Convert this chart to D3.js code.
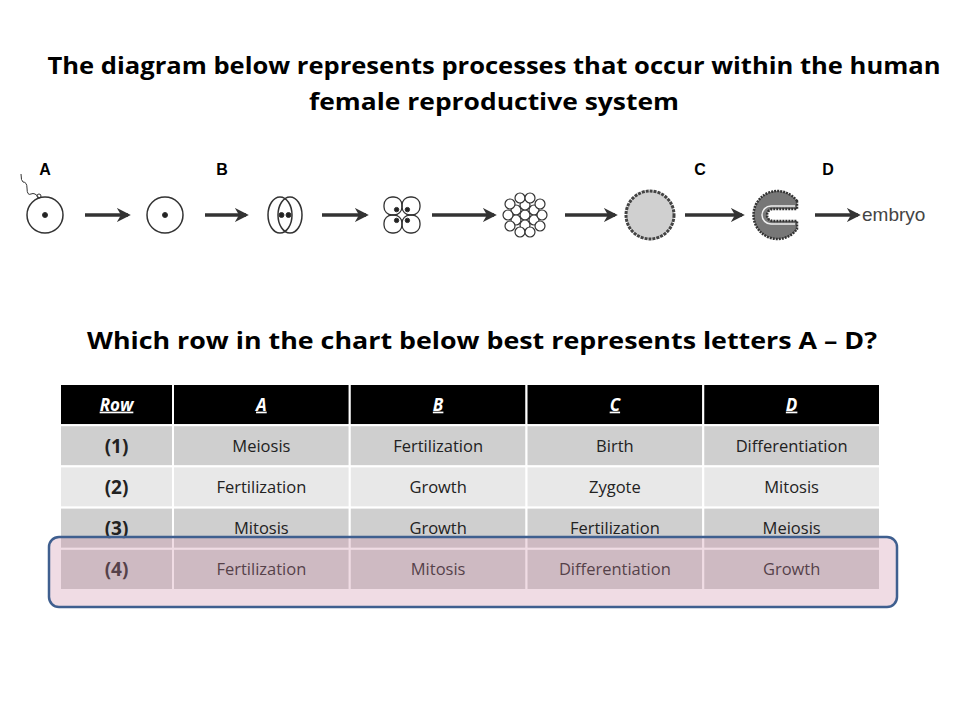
<!DOCTYPE html><html><head><meta charset="utf-8"><script src="https://cdn.jsdelivr.net/npm/d3@7"></script>
<style>body{margin:0;background:#fff}</style></head><body><svg id="c" width="960" height="720"></svg>
<script>
const titleLines=["The diagram below represents processes that occur within the human","female reproductive system"];
const question="Which row in the chart below best represents letters A – D?";
const stageLetters=["A","B","C","D"];
const headers=["Row","A","B","C","D"];
const rowLabels=["(1)","(2)","(3)","(4)"];
const colA=["Meiosis","Fertilization","Mitosis","Fertilization"];
const colB=["Fertilization","Growth","Growth","Mitosis"];
const colC=["Birth","Zygote","Fertilization","Differentiation"];
const colD=["Differentiation","Mitosis","Meiosis","Growth"];
const stages=["egg","zygote","two","four","morula","blastula","gastrula"];

const svg=d3.select("#c");
const F="'Open Sans','Liberation Sans',sans-serif";
const titleLen=[893,370];
svg.selectAll("text.t").data(titleLines).join("text").attr("x",494).attr("y",(d,i)=>74+i*36)
 .attr("text-anchor","middle").attr("font-family",F).attr("font-weight","bold").attr("font-size",23)
 .attr("textLength",(d,i)=>titleLen[i]).attr("lengthAdjust","spacingAndGlyphs").text(d=>d);
svg.append("text").attr("x",482).attr("y",349).attr("text-anchor","middle").attr("font-family",F)
 .attr("font-weight","bold").attr("font-size",23).attr("textLength",790).attr("lengthAdjust","spacingAndGlyphs").text(question);

const xs={egg:45,zygote:165,two:285,four:402,morula:525,blastula:650,gastrula:775};
const cy=215;
const g=svg.append("g").attr("stroke","#333").attr("fill","none");
svg.selectAll("text.l").data(stageLetters).join("text").attr("x",(d,i)=>[45,222,700,828][i]).attr("y",175)
 .attr("text-anchor","middle").attr("font-family","'Liberation Sans',sans-serif").attr("font-weight","bold").attr("font-size",16).text(d=>d);
const defs=svg.append("defs");
defs.append("marker").attr("id","ah").attr("viewBox","0 0 10 10").attr("refX",8).attr("refY",5).attr("markerWidth",4).attr("markerHeight",4).attr("orient","auto")
 .append("path").attr("d","M0,0L10,5L0,10L3,5Z").attr("fill","#333");
g.append("circle").attr("cx",xs.egg).attr("cy",cy).attr("r",18).attr("stroke-width",1.5);
g.append("circle").attr("cx",xs.egg).attr("cy",cy).attr("r",2.5).attr("fill","#222");
g.append("path").attr("d",`M${xs.egg-6},${cy-17} q-4,-6 -8,-4 q-4,2 -4,-6 q0,-6 -4,-6 q-2,-1 -2,-8`).attr("stroke-width",1);
g.append("circle").attr("cx",xs.egg-6).attr("cy",cy-19).attr("r",2).attr("stroke-width",1);
g.append("circle").attr("cx",xs.zygote).attr("cy",cy).attr("r",18).attr("stroke-width",1.5);
g.append("circle").attr("cx",xs.zygote).attr("cy",cy).attr("r",2.5).attr("fill","#222");
[-5,5].forEach(o=>{g.append("ellipse").attr("cx",xs.two+o).attr("cy",cy).attr("rx",12).attr("ry",18).attr("stroke-width",1.5);
 g.append("circle").attr("cx",xs.two+o*0.7).attr("cy",cy).attr("r",2.5).attr("fill","#222");});
[[-9,-9],[9,-9],[-9,9],[9,9]].forEach(([a,b])=>{g.append("rect").attr("x",xs.four+a-9).attr("y",cy+b-9).attr("width",18).attr("height",18).attr("rx",8).attr("stroke-width",1.3);
 g.append("circle").attr("cx",xs.four+a*0.6).attr("cy",cy+b*0.6).attr("r",2.2).attr("fill","#222");});
const mo=[[0,0],[-9,-5],[9,-5],[-9,5],[9,5],[0,-10],[0,10],[-17,0],[17,0],[-5,-17],[5,-17],[-5,17],[5,17],[-15,-11],[15,-11],[-15,11],[15,11]];
mo.forEach(([a,b])=>g.append("circle").attr("cx",xs.morula+a).attr("cy",cy+b).attr("r",5).attr("fill","#fff").attr("stroke-width",1.2));
g.append("circle").attr("cx",xs.blastula).attr("cy",cy).attr("r",24).attr("fill","#d0d0d0").attr("stroke","#444").attr("stroke-width",3).attr("stroke-dasharray","3 1");
g.append("path").attr("d",`M${xs.gastrula+22},${cy-14} A24,24 0 1 0 ${xs.gastrula+22},${cy+14} L${xs.gastrula+22},${cy+6} L${xs.gastrula-2},${cy+6} A6,6 0 0 1 ${xs.gastrula-2},${cy-6} L${xs.gastrula+22},${cy-6} Z`)
 .attr("fill","#777").attr("stroke","#333").attr("stroke-width",2.5).attr("stroke-dasharray","2 1");
g.append("path").attr("d",`M${xs.gastrula+20},${cy-9} L${xs.gastrula-4},${cy-9} A9,9 0 0 0 ${xs.gastrula-4},${cy+9} L${xs.gastrula+20},${cy+9}`).attr("stroke","#eee").attr("stroke-width",1.5);
const arr=[[85,128],[205,246],[322,366],[432,494],[565,615],[685,742],[815,858]];
arr.forEach(([a,b])=>g.append("line").attr("x1",a).attr("x2",b).attr("y1",cy).attr("y2",cy).attr("stroke-width",3.5).attr("marker-end","url(#ah)"));
svg.append("text").attr("x",862).attr("y",cy+6).attr("font-family","'Liberation Sans',sans-serif").attr("font-size",19).attr("fill","#444").text("embryo");

const cols=[rowLabels,colA,colB,colC,colD];
const x0=60,x1=173,x2=880;
const bx=d3.scaleBand().domain(headers.slice(1)).range([x1,x2]);
const colX=i=>i===0?x0:bx(headers[i]);
const colW=i=>i===0?x1-x0:bx.bandwidth();
const ry=d3.scaleBand().domain(["h"].concat(rowLabels)).range([384,590]);
const rowFill=["#000","#cfcfcf","#e8e8e8","#cfcfcf","#cfcfcf"];
const T=svg.append("g");
["h"].concat(rowLabels).forEach((r,ri)=>{
 headers.forEach((h,ci)=>{
  T.append("rect").attr("x",colX(ci)).attr("y",ry(r)).attr("width",colW(ci)).attr("height",ry.bandwidth()).attr("fill",rowFill[ri]).attr("stroke","#fff").attr("stroke-width",2);
  const txt=ri===0?h:cols[ci][ri-1];
  const t=T.append("text").attr("x",colX(ci)+colW(ci)/2).attr("y",ry(r)+ry.bandwidth()/2+6).attr("text-anchor","middle").attr("font-family",F).attr("fill","#222").text(txt);
  if(ri===0)t.attr("fill","#fff").attr("font-weight","bold").attr("font-style","italic").attr("text-decoration","underline").attr("font-size",17);
  else if(ci===0)t.attr("font-weight","bold").attr("font-size",19).attr("y",ry(r)+ry.bandwidth()/2+7);
  else t.attr("font-size",16.5);
 });
});
svg.append("rect").attr("x",49).attr("y",537).attr("width",848).attr("height",70).attr("rx",10)
 .attr("fill","rgba(205,140,165,0.3)").attr("stroke","#3f5f8f").attr("stroke-width",2.5);
</script></body></html>
